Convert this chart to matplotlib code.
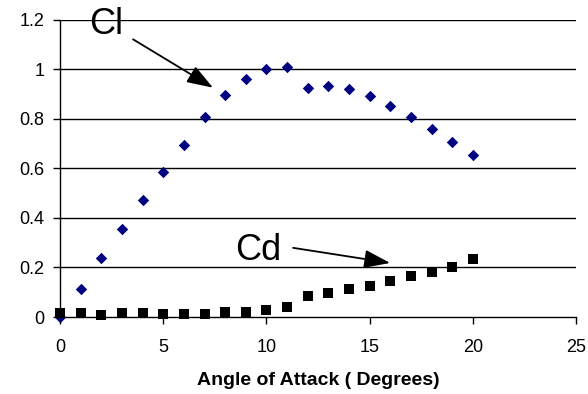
import matplotlib
matplotlib.use("Agg")
import matplotlib.pyplot as plt

angles = list(range(0, 21))
cl = [0.0, 0.115, 0.24, 0.355, 0.47, 0.585, 0.695, 0.805, 0.895, 0.96, 1.0, 1.01,
      0.924, 0.93, 0.918, 0.892, 0.853, 0.808, 0.757, 0.704, 0.653]
cd = [0.016, 0.016, 0.007, 0.015, 0.015, 0.014, 0.014, 0.014, 0.02, 0.02, 0.03, 0.04,
      0.086, 0.098, 0.112, 0.124, 0.146, 0.164, 0.183, 0.203, 0.234]
xticks = [0, 5, 10, 15, 20, 25]
yticks = [0, 0.2, 0.4, 0.6, 0.8, 1.0, 1.2]
ytick_labels = ["0", "0.2", "0.4", "0.6", "0.8", "1", "1.2"]

plt.rcParams['font.family'] = ['Liberation Sans', 'DejaVu Sans']

fig = plt.figure(figsize=(5.88, 3.94), dpi=100)
ax = fig.add_axes([0.102, 0.1954, 0.878, 0.7551])

for y in yticks[1:]:
    ax.axhline(y, color='black', linewidth=1.0, zorder=1)

ax.scatter(angles, cl, marker='D', s=34, color='#000080', zorder=3, clip_on=False, linewidths=0)
ax.scatter(angles, cd, marker='s', s=42, color='black', zorder=3, clip_on=False, linewidths=0)

ax.set_xlim(0, 25)
ax.set_ylim(0, 1.2)
ax.set_xticks(xticks)
ax.set_yticks(yticks)
ax.set_yticklabels(ytick_labels)
ax.tick_params(axis='both', labelsize=13, direction='out', length=5, width=1, color='black', pad=6)
ax.tick_params(axis='x', pad=11)

for s in ['top', 'right']:
    ax.spines[s].set_visible(False)
for s in ['left', 'bottom']:
    ax.spines[s].set_linewidth(1.0)
    ax.spines[s].set_color('black')

ax.set_xlabel("Angle of Attack ( Degrees)", fontsize=14, fontweight='bold', labelpad=11)

arrow_style = dict(arrowstyle='-|>,head_length=0.8,head_width=0.28', color='black', lw=1.3,
                   shrinkA=0, shrinkB=0, mutation_scale=20)

ax.text(2.25, 1.18, "Cl", fontsize=26, ha='center', va='center')
ax.annotate("", xy=(7.41, 0.925), xytext=(3.54, 1.12), annotation_clip=False,
            arrowprops=arrow_style)
ax.text(9.6, 0.27, "Cd", fontsize=26, ha='center', va='center')
ax.annotate("", xy=(15.99, 0.218), xytext=(11.29, 0.279), annotation_clip=False,
            arrowprops=arrow_style)

fig.savefig("out.png", dpi=100)
